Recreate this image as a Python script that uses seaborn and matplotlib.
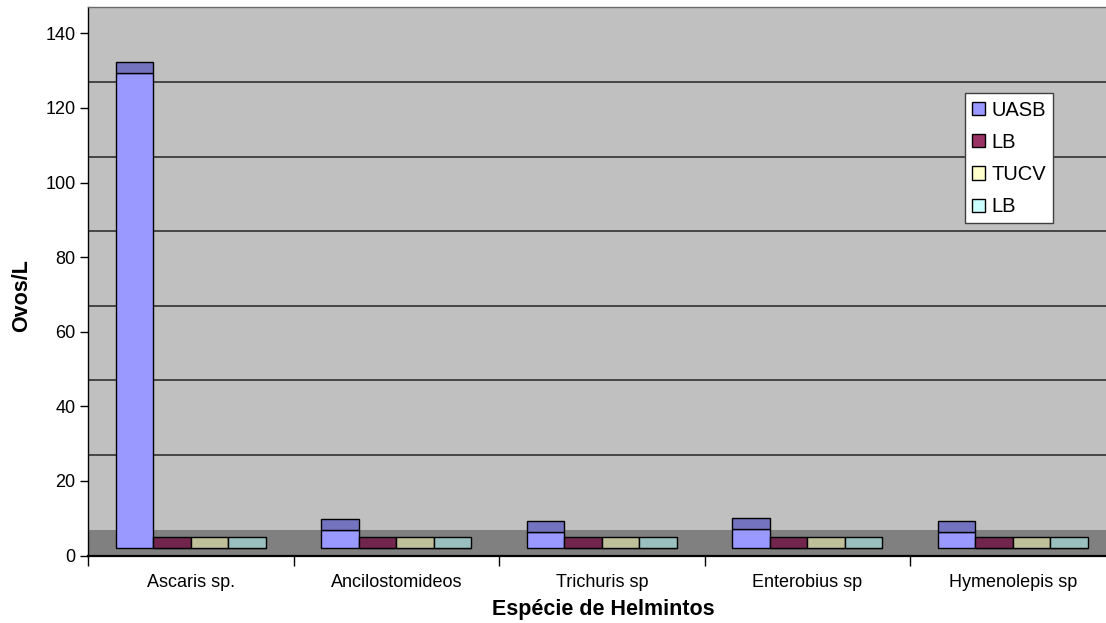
import matplotlib
matplotlib.use("Agg")
import matplotlib.pyplot as plt
from matplotlib.patches import Rectangle, Patch
import matplotlib.colors as mcolors
import numpy as np
import pandas as pd
import seaborn as sns

# Helminth egg counts per litre, by species and treatment stage
species = ["Ascaris sp.", "Ancilostomideos", "Trichuris sp", "Enterobius sp", "Hymenolepis sp"]
series_keys = ["UASB", "LB_1", "TUCV", "LB_2"]
series_labels = ["UASB", "LB", "TUCV", "LB"]
uasb = [127.5, 4.9, 4.3, 5.2, 4.3]
lb_1 = [0, 0, 0, 0, 0]
tucv = [0, 0, 0, 0, 0]
lb_2 = [0, 0, 0, 0, 0]
yticks = [0, 20, 40, 60, 80, 100, 120, 140]

series_colors = ["#9999FF", "#993366", "#FFFFCC", "#CCFFFF"]

# pseudo-3D geometry (in value units)
FRONT_OFFSET = 1.88   # bar front face sits slightly behind the axis edge
BAR_DEPTH = 2.95      # visible top face of every column
WALL_OFFSET = 6.95    # back wall / floor depth

df = pd.DataFrame({
    "species": np.repeat(species, len(series_keys)),
    "series": series_keys * len(species),
    "value": [v for row in zip(uasb, lb_1, tucv, lb_2) for v in row],
})

sns.set_theme(style="white")
plt.rcParams["font.family"] = ["Liberation Sans", "DejaVu Sans"]
for key in ["text.color", "axes.labelcolor", "xtick.color", "ytick.color"]:
    plt.rcParams[key] = "black"

fig = plt.figure(figsize=(11.06, 6.23), dpi=100)
fig.patch.set_facecolor("white")
ax = fig.add_axes([88 / 1106, (623 - 555.5) / 623, 1027.5 / 1106, 548.1 / 623])

sns.barplot(
    data=df, x="species", y="value", hue="series",
    order=species, hue_order=series_keys,
    palette=dict(zip(series_keys, series_colors)),
    width=0.73, errorbar=None, legend=False,
    bottom=FRONT_OFFSET, edgecolor="black", linewidth=1.0,
    saturation=1, ax=ax, zorder=3,
)
bars = [p for p in ax.patches if isinstance(p, Rectangle)]

# darker top face of each column
for p in bars:
    fc = np.array(mcolors.to_rgb(p.get_facecolor()))
    top = p.get_y() + p.get_height()
    ax.add_patch(Rectangle((p.get_x(), top), p.get_width(), BAR_DEPTH,
                           facecolor=fc * 0.75, edgecolor="black",
                           linewidth=1.0, zorder=3))

# wall and floor
ax.set_facecolor("#C0C0C0")
ax.axhspan(0, WALL_OFFSET, color="#808080", zorder=1, linewidth=0)
for v in yticks[1:-1]:
    ax.axhline(v + WALL_OFFSET, color="#303030", linewidth=1.2, zorder=2)

ax.set_xlim(-0.5, len(species) - 0.5)
ax.set_ylim(0, yticks[-1] + WALL_OFFSET)

ax.set_yticks(yticks)
ax.set_yticklabels([str(t) for t in yticks], fontsize=13)
ax.tick_params(axis="y", direction="out", length=6, width=1, color="black",
               labelcolor="black", pad=3, left=True)

ax.set_xticks(range(len(species)))
ax.set_xticklabels(species, fontsize=13)
ax.set_xticks(np.arange(-0.5, len(species)), minor=True)
ax.tick_params(axis="x", which="major", length=0, pad=13, labelcolor="black")
ax.tick_params(axis="x", which="minor", direction="out", length=7, width=1,
               color="black", bottom=True)

ax.spines["right"].set_visible(False)
ax.spines["top"].set_color("#6a6a6a")
ax.spines["top"].set_linewidth(1.0)
ax.spines["left"].set_color("black")
ax.spines["left"].set_linewidth(1.0)
ax.spines["bottom"].set_color("black")
ax.spines["bottom"].set_linewidth(1.6)

ax.set_xlabel("Espécie de Helmintos", fontsize=15.5, fontweight="bold", color="black")
ax.set_ylabel("Ovos/L", fontsize=15.5, fontweight="bold", color="black")
ax.xaxis.set_label_coords(0.502, -0.080)
ax.yaxis.set_label_coords(-0.0545, 0.474)

handles = [Patch(facecolor=c, edgecolor="black", linewidth=1.0) for c in series_colors]
leg = ax.legend(handles, series_labels, loc="upper left",
                bbox_to_anchor=(0.8535, 0.843), borderaxespad=0,
                fontsize=14.5, frameon=True, fancybox=False, shadow=False,
                handlelength=0.65, handleheight=0.65, handletextpad=0.3,
                labelspacing=0.66, borderpad=0.35)
for t in leg.get_texts():
    t.set_color("black")
leg.get_frame().set_edgecolor("#404040")
leg.get_frame().set_linewidth(1.0)
leg.get_frame().set_facecolor("white")
leg.get_frame().set_alpha(1)
leg.set_zorder(5)

fig.savefig("out.png", dpi=100, facecolor="white")
